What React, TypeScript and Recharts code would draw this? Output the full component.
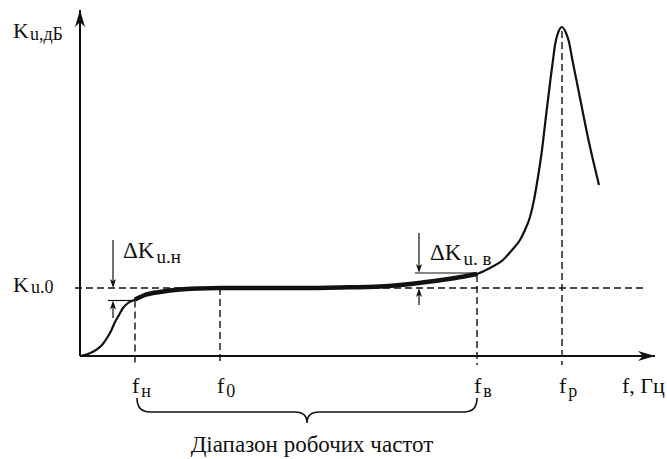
import { Line, LineChart, ReferenceDot, ReferenceLine, XAxis, YAxis } from 'recharts';

const FONT = '"Liberation Serif", "Times New Roman", serif';
const INK = '#111';

// sketch of the amplitude-frequency response, arbitrary units
const freq = [0, 8, 16, 22, 27, 31, 35, 39, 43, 48, 55, 65, 80, 100, 120, 140, 180, 220, 260, 300, 320, 350, 375, 397, 410, 423, 432, 440, 445, 450, 454, 457, 462, 466, 470, 473, 475, 478, 482, 486, 489, 492, 497, 502, 507, 513, 519];
const gain = [0, 2, 6, 11, 18, 25, 34, 41, 48, 53, 56.5, 61, 64, 66.5, 67.5, 68, 68, 68, 68.5, 69.5, 71, 74.5, 78, 82, 88, 96, 106, 116, 126, 139, 156, 173, 206, 240, 273, 296, 311, 323, 329, 323, 314, 298, 273, 248, 223, 196, 171];

// marked frequencies and their subscripts
const F_N = 55;
const F_0 = 140;
const F_V = 397;
const F_P = 482;
const fTicks = [F_N, F_0, F_V, F_P];
const fSubs = ['н', '0', 'в', 'р'];

const K_0 = 68;
const K_N = 55.5; // level at f_н
const K_V = 83; // level at f_в

const data = freq.map((f, i) => ({
  f,
  k: gain[i],
  work: f >= F_N && f <= F_V ? gain[i] : null,
}));

const Arrow = (p: any) => {
  const { x1, y1, x2, y2 } = p;
  const len = p.head ?? 9;
  const hw = p.half ?? 3;
  const dx = x2 - x1;
  const dy = y2 - y1;
  const d = Math.hypot(dx, dy) || 1;
  const ux = dx / d;
  const uy = dy / d;
  const bx = x2 - ux * len;
  const by = y2 - uy * len;
  const nx = x2 - ux * len * 0.75;
  const ny = y2 - uy * len * 0.75;
  return (
    <g>
      <line x1={x1} y1={y1} x2={nx} y2={ny} stroke={INK} strokeWidth={p.w ?? 1.2} />
      <polygon
        points={`${x2},${y2} ${bx - uy * hw},${by + ux * hw} ${nx},${ny} ${bx + uy * hw},${by - ux * hw}`}
        fill={INK}
      />
    </g>
  );
};

const Brace = (p: any) => {
  const L = p.x1 + 2;
  const R = p.x2;
  const y = p.y1;
  const d = 14;
  const c = 11;
  const m = (L + R) / 2;
  const path = `M${L},${y} Q${L},${y + d} ${L + 13},${y + d} L${m - 12},${y + d} Q${m},${y + d} ${m},${y + d + c} Q${m},${y + d} ${m + 12},${y + d} L${R - 13},${y + d} Q${R},${y + d} ${R},${y}`;
  return (
    <g>
      <path d={path} fill="none" stroke={INK} strokeWidth={1.6} />
      <text x={m + 5} y={y + 54} textAnchor="middle" fontFamily={FONT} fontSize={23} fill={INK}>
        Діапазон робочих частот
      </text>
    </g>
  );
};

const FTick = (p: any) => {
  const i = fTicks.indexOf(p.payload.value);
  return (
    <text x={p.x - 3} y={p.y + 37} fontFamily={FONT} fontSize={22} fill={INK}>
      f
      <tspan fontSize={18} dx={2} dy={4}>
        {fSubs[i]}
      </tspan>
    </text>
  );
};

const KTick = (p: any) => (
  <text x={p.x - 67} y={p.y + 4} fontFamily={FONT} fontSize={22} fill={INK}>
    K
    <tspan fontSize={18} dx={2} dy={1}>
      u.0
    </tspan>
  </text>
);

const DeltaLabel = (sub: string) => (p: any) => (
  <text x={p.cx} y={p.cy} fontFamily={FONT} fontSize={23} fill={INK}>
    ΔK
    <tspan fontSize={19} dx={2} dy={5}>
      {sub}
    </tspan>
  </text>
);

const AxisHead = (dir: 'up' | 'right') => (p: any) => {
  const { cx, cy } = p;
  const pts =
    dir === 'right'
      ? `${cx},${cy} ${cx - 17},${cy - 5} ${cx - 12},${cy} ${cx - 17},${cy + 5}`
      : `${cx},${cy} ${cx - 5},${cy + 17} ${cx},${cy + 12} ${cx + 5},${cy + 17}`;
  return <polygon points={pts} fill={INK} />;
};

const dash = { stroke: INK, strokeWidth: 1.4, strokeDasharray: '7 4' };

export default function App() {
  return (
    <div style={{ position: 'absolute', left: 0, top: 0, background: '#fff' }}>
      <LineChart width={667} height={459} data={data} margin={{ top: 10, right: 12, left: 0, bottom: 0 }}>
        <XAxis
          type="number"
          dataKey="f"
          domain={[0, 575]}
          ticks={fTicks}
          interval={0}
          tick={<FTick />}
          tickLine={false}
          tickSize={0}
          tickMargin={0}
          height={103}
          axisLine={{ stroke: INK, strokeWidth: 2 }}
          label={{
            content: (p: any) => (
              <text x={p.viewBox.x + p.viewBox.width - 33} y={p.viewBox.y + 37} fontFamily={FONT} fontSize={22} fill={INK}>
                f, Гц
              </text>
            ),
          }}
        />
        <YAxis
          type="number"
          domain={[0, 346]}
          ticks={[K_0]}
          tick={<KTick />}
          tickLine={false}
          tickSize={0}
          tickMargin={0}
          width={80}
          axisLine={{ stroke: INK, strokeWidth: 2 }}
          label={{
            content: (p: any) => (
              <text x={p.viewBox.x + 13} y={p.viewBox.y + 28} fontFamily={FONT} fontSize={22} fill={INK}>
                K
                <tspan fontSize={18} dx={1} dy={2}>
                  u,дБ
                </tspan>
              </text>
            ),
          }}
        />

        <ReferenceLine segment={[{ x: -5, y: K_0 }, { x: 563, y: K_0 }]} ifOverflow="visible" {...dash} />
        <ReferenceLine segment={[{ x: F_N, y: K_N }, { x: F_N, y: -9 }]} ifOverflow="visible" {...dash} />
        <ReferenceLine segment={[{ x: F_0, y: K_0 }, { x: F_0, y: -9 }]} ifOverflow="visible" {...dash} />
        <ReferenceLine segment={[{ x: F_V, y: K_V - 2 }, { x: F_V, y: -9 }]} ifOverflow="visible" {...dash} />
        <ReferenceLine segment={[{ x: F_P, y: 325 }, { x: F_P, y: -9 }]} ifOverflow="visible" {...dash} />

        {/* ΔK at the low edge */}
        <ReferenceLine segment={[{ x: 28, y: K_N }, { x: F_N, y: K_N }]} stroke={INK} strokeWidth={1.2} ifOverflow="visible" />
        <ReferenceLine segment={[{ x: 33, y: 116 }, { x: 33, y: K_0 }]} ifOverflow="visible" shape={<Arrow />} />
        <ReferenceLine segment={[{ x: 33, y: 38 }, { x: 33, y: K_N }]} ifOverflow="visible" shape={<Arrow />} />
        <ReferenceDot x={43} y={98} ifOverflow="visible" shape={DeltaLabel('u.н')} />

        {/* ΔK at the high edge */}
        <ReferenceLine segment={[{ x: 335, y: K_V }, { x: F_V, y: K_V }]} stroke={INK} strokeWidth={1.2} ifOverflow="visible" />
        <ReferenceLine segment={[{ x: 339, y: 123 }, { x: 339, y: K_V }]} ifOverflow="visible" shape={<Arrow />} />
        <ReferenceLine segment={[{ x: 339, y: 51 }, { x: 339, y: K_0 }]} ifOverflow="visible" shape={<Arrow />} />
        <ReferenceDot x={350} y={96} ifOverflow="visible" shape={DeltaLabel('u. в')} />

        <ReferenceLine segment={[{ x: F_N, y: -42 }, { x: F_V, y: -42 }]} ifOverflow="visible" shape={<Brace />} />

        <ReferenceDot x={575} y={0} ifOverflow="visible" shape={AxisHead('right')} />
        <ReferenceDot x={0} y={346} ifOverflow="visible" shape={AxisHead('up')} />

        <Line type="monotone" dataKey="k" stroke={INK} strokeWidth={2.2} dot={false} isAnimationActive={false} />
        <Line type="monotone" dataKey="work" stroke={INK} strokeWidth={4.5} dot={false} isAnimationActive={false} />
      </LineChart>
    </div>
  );
}
